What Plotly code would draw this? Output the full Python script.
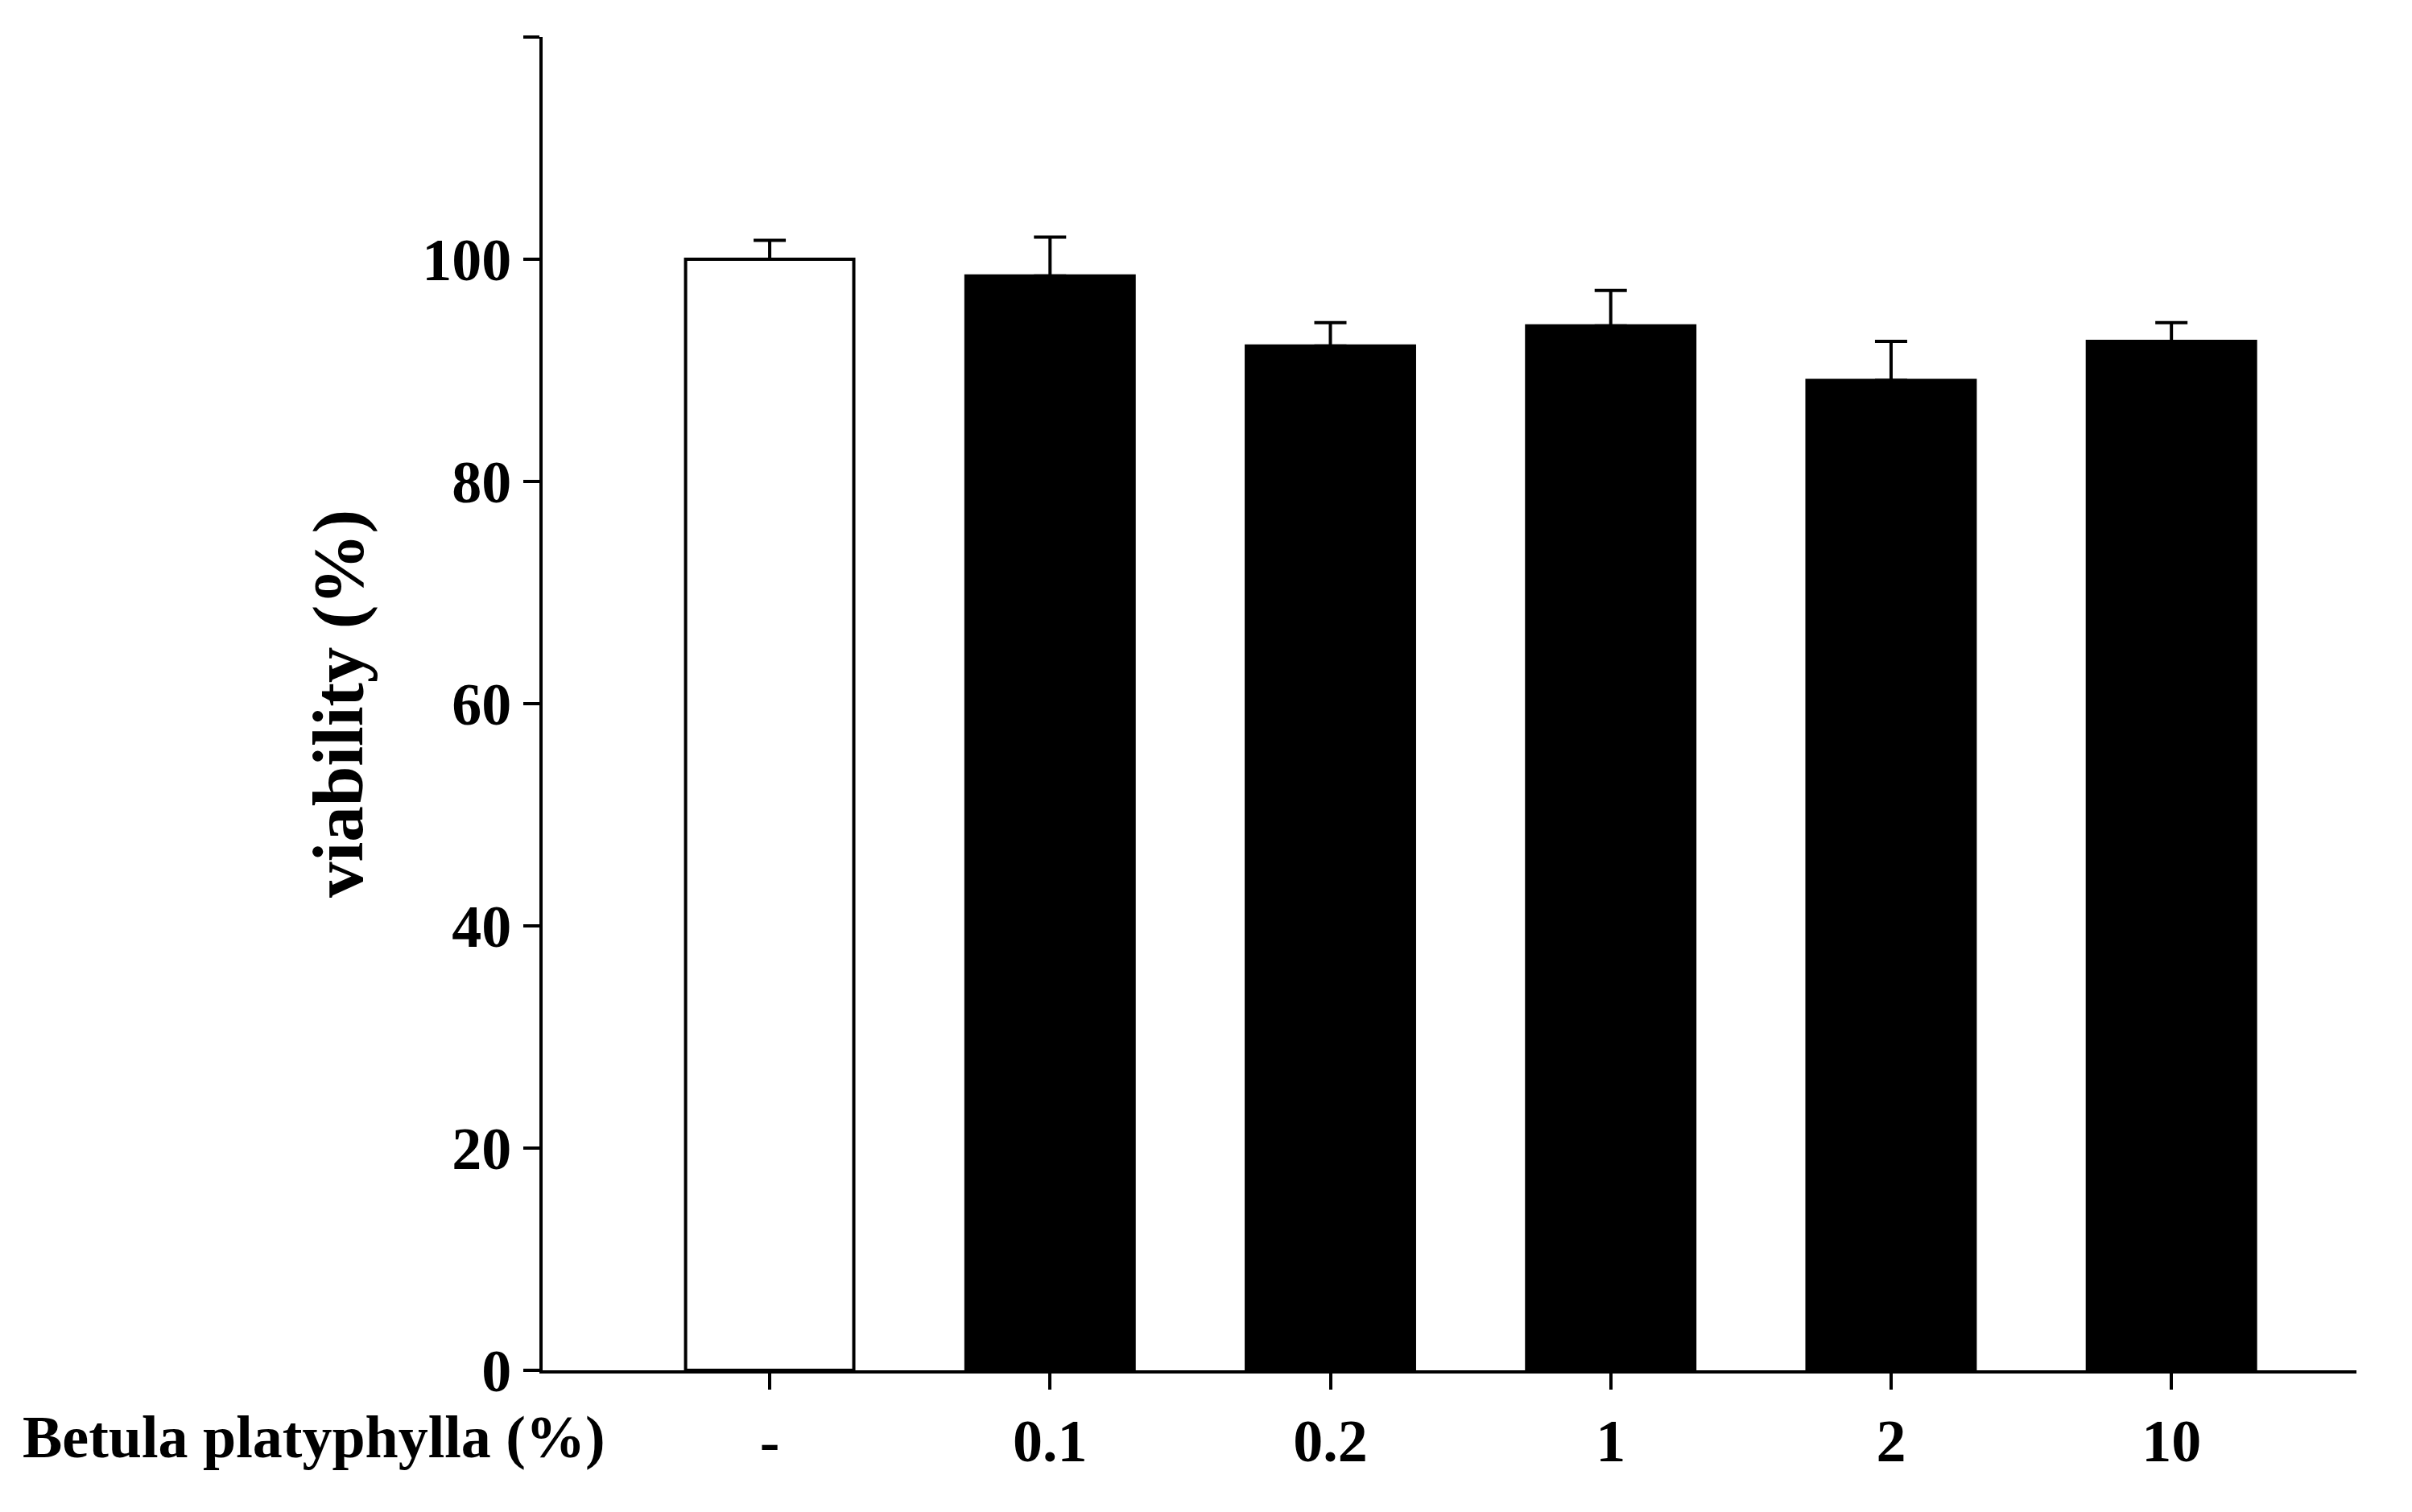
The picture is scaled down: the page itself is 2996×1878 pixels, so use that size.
import plotly.graph_objects as go

categories = ["-", "0.1", "0.2", "1", "2", "10"]
values = [100.0, 98.5, 92.2, 94.0, 89.1, 92.6]
err_up = [1.7, 3.5, 2.1, 3.2, 3.5, 1.7]
fills = ["white", "black", "black", "black", "black", "black"]

L, R, T, B = 666, 77, 38, 184
font = dict(family="Liberation Serif", size=74, color="black")
fig = go.Figure(go.Bar(
    x=list(range(len(categories))), y=values, width=0.6,
    marker=dict(color=fills, line=dict(color="black", width=4)),
    error_y=dict(type="data", array=err_up, arrayminus=[0]*len(values), symmetric=False,
                 color="black", thickness=4, width=20),
))
fig.update_layout(
    width=2996, height=1878, plot_bgcolor="white", paper_bgcolor="white",
    margin=dict(l=L, r=R, t=T, b=B), showlegend=False, font=font,
    xaxis=dict(range=[-0.81, 5.66], tickvals=list(range(len(categories))), ticktext=[f"<b>{c}</b>" for c in categories],
               showline=True, linecolor="black", linewidth=4, ticks="outside", ticklen=20, tickwidth=4,
               tickcolor="black", showgrid=False, zeroline=False),
    yaxis=dict(range=[0, 120], dtick=20, tickformat="d", showline=True, linecolor="black", linewidth=4,
               ticks="outside", ticklen=20, tickwidth=4, tickcolor="black", showgrid=False, zeroline=False,
               title=dict(text="<b>viability (%)</b>", standoff=45)),
)
fig.update_yaxes(tickprefix="<b>", ticksuffix="</b>")
fig.add_annotation(text="<b>Betula platyphylla (%)</b>", xref="paper", yref="paper", x=-(L-18)/(2996-L-R), y=0,
                   xanchor="left", yanchor="top", yshift=-40, showarrow=False, font=font)
fig.write_html("out.html")
